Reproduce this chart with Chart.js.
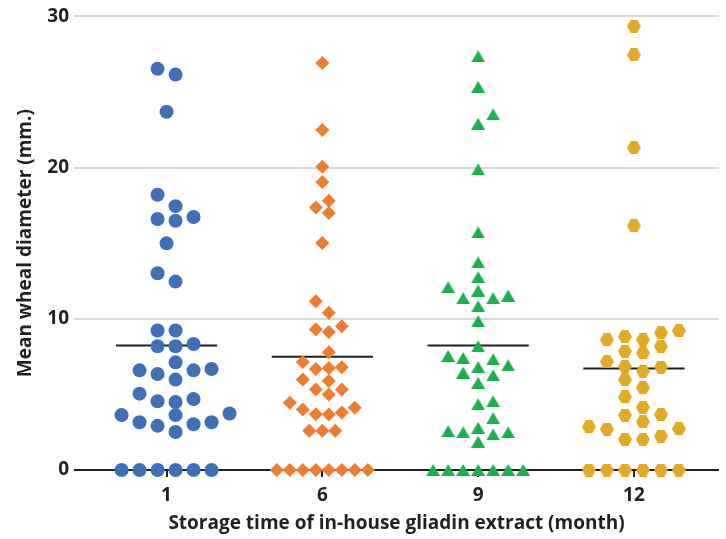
<!DOCTYPE html>
<html lang="en">
  <head>
    <meta charset="UTF-8" />
    <title>Mean wheal diameter</title>
    <script src="https://cdn.jsdelivr.net/npm/chart.js"></script>
    <style>
      body {
        margin: 0;
        background-color: #ffffff;
      }
    </style>
  </head>
  <body>
    <canvas id="myChart" width="726" height="539"></canvas>
    <script>
      // storage time (month) categories
      const months = ["1", "6", "9", "12"];

      // mean wheal diameter (mm.) per patient
      const month1 = [
        0, 0, 0, 0, 0, 0, 2.51, 2.92, 3.03, 3.16, 3.16, 3.63, 3.63, 3.74,
        4.5, 4.55, 4.7, 5.05, 5.98, 6.35, 6.59, 6.59, 6.68, 7.12, 8.18, 8.18,
        8.33, 9.23, 9.23, 12.46, 13.01, 14.99, 16.48, 16.6, 16.73, 17.45,
        18.2, 23.69, 26.15, 26.53,
      ];
      const month6 = [
        0, 0, 0, 0, 0, 0, 0, 0, 2.59, 2.59, 2.59, 3.67, 3.69, 3.8, 4.0,
        4.11, 4.44, 4.99, 5.32, 5.32, 5.89, 5.98, 6.68, 6.75, 6.79, 7.14,
        7.78, 9.12, 9.3, 9.51, 10.4, 11.16, 15.01, 16.99, 17.36, 17.8, 19.05,
        20.06, 22.48, 26.92,
      ];
      const month9 = [
        0, 0, 0, 0, 0, 0, 0, 1.87, 2.35, 2.49, 2.49, 2.57, 2.79, 3.43, 4.35,
        4.55, 5.76, 6.26, 6.44, 6.81, 6.92, 7.32, 7.41, 7.54, 8.18, 9.84,
        10.83, 11.36, 11.36, 11.54, 11.87, 12.09, 12.75, 13.73, 15.71, 19.89,
        22.9, 23.52, 25.34, 27.36,
      ];
      const month12 = [
        0, 0, 0, 0, 0, 0, 2.02, 2.02, 2.24, 2.7, 2.73, 2.86, 3.19, 3.63, 3.67,
        4.15, 4.83, 5.45, 5.98, 6.53, 6.81, 6.84, 7.17, 7.74, 7.85, 8.18,
        8.62, 8.62, 8.82, 9.08, 9.21, 16.15, 21.32, 27.45, 29.36,
      ];
      const groups = [month1, month6, month9, month12];

      const yTicks = [0, 10, 20, 30];

      const ink = "#231f20";
      const fontFamily = "'Open Sans', sans-serif";

      // small canvas markers, centred on their box like the original figure
      function marker(color, w, h, pts) {
        const c = document.createElement("canvas");
        c.width = w;
        c.height = h;
        const g = c.getContext("2d");
        g.fillStyle = color;
        g.beginPath();
        pts.forEach(([px, py], k) => (k ? g.lineTo(px * w, py * h) : g.moveTo(px * w, py * h)));
        g.closePath();
        g.fill();
        return c;
      }
      const hexPts = [[0, 0.5], [0.27, 0], [0.73, 0], [1, 0.5], [0.73, 1], [0.27, 1]];
      const triPts = [[0.5, 0], [1, 1], [0, 1]];

      // marker look per group; step/rowH = swarm spacing in px
      const looks = [
        { color: "#3f6fb6", style: "circle", radius: 7, step: 18, rowH: 12.5 },
        { color: "#ee7d2f", style: "rectRot", radius: 7, step: 13, rowH: 12 },
        { color: "#1cb04d", style: marker("#1cb04d", 14, 12, triPts), radius: 7, step: 15, rowH: 13 },
        { color: "#e2a924", style: marker("#e2a924", 14, 13, hexPts), radius: 7, step: 18, rowH: 13 },
      ];

      const mean = (arr) => arr.reduce((a, b) => a + b, 0) / arr.length;
      const halfBar = 0.325;

      const pointSets = groups.map((vals, i) => ({
        type: "scatter",
        label: months[i],
        data: vals.map((v) => ({ x: i, y: v })),
        pointStyle: looks[i].style,
        pointRadius: looks[i].radius,
        pointHoverRadius: looks[i].radius,
        backgroundColor: looks[i].color,
        borderWidth: 0,
        clip: false,
        order: 1,
      }));

      const meanSets = groups.map((vals, i) => ({
        type: "line",
        label: "mean " + months[i],
        data: [
          { x: i - halfBar, y: mean(vals) },
          { x: i + halfBar, y: mean(vals) },
        ],
        borderColor: ink,
        borderWidth: 2,
        pointRadius: 0,
        order: 2,
      }));

      const tickFont = { family: fontFamily, size: 19, weight: "bold" };

      const chart = new Chart(document.getElementById("myChart"), {
        type: "scatter",
        data: { datasets: [...meanSets, ...pointSets] },
        options: {
          responsive: false,
          animation: false,
          layout: { padding: { top: 15, left: 0, right: 0, bottom: 0 } },
          plugins: {
            legend: { display: false },
            tooltip: { enabled: false },
          },
          scales: {
            x: {
              type: "linear",
              min: -0.594,
              max: 3.546,
              afterBuildTicks: (s) => {
                s.ticks = months.map((m, i) => ({ value: i }));
              },
              afterFit: (s) => {
                s.height = 69;
              },
              ticks: {
                callback: (v) => months[v],
                padding: 7,
                color: ink,
                font: tickFont,
              },
              grid: {
                drawOnChartArea: false,
                tickLength: 7,
                lineWidth: 2,
                color: ink,
              },
              border: { display: false },
              title: {
                display: true,
                text: "Storage time of in-house gliadin extract (month)",
                color: ink,
                font: tickFont,
                padding: { top: 0, bottom: 4 },
              },
            },
            y: {
              min: 0,
              max: 30,
              afterBuildTicks: (s) => {
                s.ticks = yTicks.map((v) => ({ value: v }));
              },
              afterFit: (s) => {
                s.width = 74;
              },
              ticks: {
                padding: 5,
                color: ink,
                font: tickFont,
              },
              grid: {
                drawTicks: false,
                lineWidth: 2,
                color: (c) => (c.tick && c.tick.value === 0 ? ink : "#d9d9d9"),
              },
              border: { display: false },
              title: {
                display: true,
                text: "Mean wheal diameter (mm.)",
                color: ink,
                font: tickFont,
                padding: { top: 14, bottom: 0 },
              },
            },
          },
        },
      });

      // spread each group sideways so markers don't overlap (simple beeswarm)
      function swarm(vals, look, pxPerY) {
        const order = vals.map((v, k) => k).sort((a, b) => vals[a] - vals[b]);
        const offsets = new Array(vals.length).fill(0);
        const placed = [];

        // longest run of equal values decides if columns sit on whole or half steps
        let maxRun = 1;
        let run = 1;
        for (let k = 1; k < order.length; k++) {
          run = vals[order[k]] === vals[order[k - 1]] ? run + 1 : 1;
          maxRun = Math.max(maxRun, run);
        }
        const half = maxRun % 2 === 0;
        const cands = half ? [] : [0];
        for (let n = 0; n < 30; n++) {
          const d = half ? look.step / 2 + n * look.step : (n + 1) * look.step;
          cands.push(d, -d);
        }

        const hits = (cand, py) =>
          placed.some(
            (p) => Math.abs(p.dx - cand) < look.step - 0.5 && Math.abs(p.py - py) < look.rowH
          );

        let k = 0;
        while (k < order.length) {
          let end = k;
          while (end + 1 < order.length && vals[order[end + 1]] === vals[order[k]]) end++;
          const n = end - k + 1;
          if (n >= 3) {
            for (let j = 0; j < n; j++) {
              const dx = (j - (n - 1) / 2) * look.step;
              offsets[order[k + j]] = dx;
              placed.push({ dx, py: vals[order[k + j]] * pxPerY });
            }
          } else {
            for (let j = k; j <= end; j++) {
              const py = vals[order[j]] * pxPerY;
              const lonely = vals.every(
                (v, q) => q === order[j] || Math.abs(v * pxPerY - py) >= look.rowH
              );
              let dx = 0;
              if (!lonely) {
                dx = cands.find((c) => !hits(c, py));
              }
              offsets[order[j]] = dx;
              placed.push({ dx, py });
            }
          }
          k = end + 1;
        }
        return offsets;
      }

      const xs = chart.scales.x;
      const ys = chart.scales.y;
      const pxPerX = xs.getPixelForValue(1) - xs.getPixelForValue(0);
      const pxPerY = ys.getPixelForValue(0) - ys.getPixelForValue(1);

      groups.forEach((vals, i) => {
        const offs = swarm(vals, looks[i], pxPerY);
        pointSets[i].data.forEach((pt, j) => {
          pt.x = i + offs[j] / pxPerX;
        });
      });
      chart.update("none");
    </script>
  </body>
</html>
